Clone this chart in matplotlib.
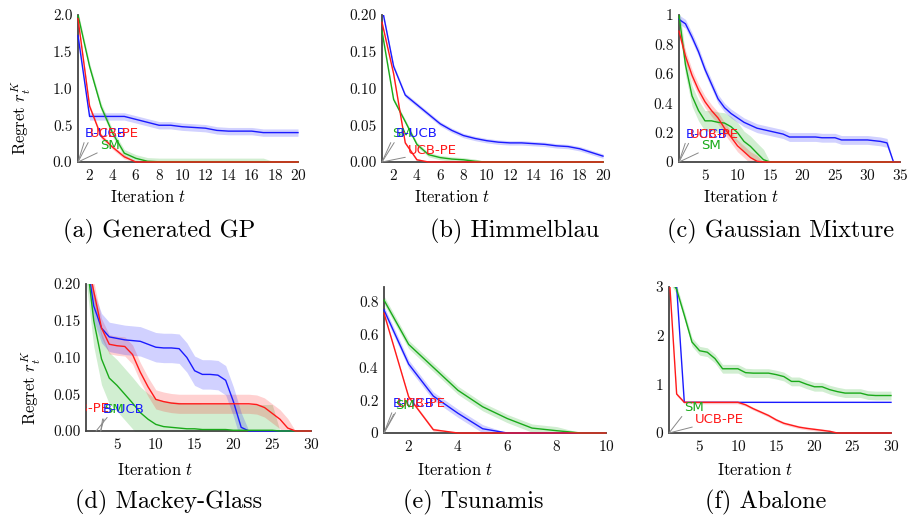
import numpy as np
import matplotlib
matplotlib.use("Agg")
import matplotlib.pyplot as plt
from matplotlib.transforms import Bbox, TransformedBbox

plt.rcParams['font.family'] = 'serif'
plt.rcParams['font.serif'] = ['cmr10']
plt.rcParams['mathtext.fontset'] = 'cm'
plt.rcParams['axes.formatter.use_mathtext'] = True

# ---------------- data ----------------
a_t = list(range(1, 21))
a_bucb = [1.72, 0.62, 0.62, 0.62, 0.62, 0.58, 0.54, 0.50, 0.50, 0.48, 0.47, 0.46, 0.43, 0.42, 0.42, 0.42, 0.40, 0.40, 0.40, 0.40]
a_ucbpe = [1.95, 0.76, 0.35, 0.20, 0.07, 0.0, 0, 0, 0, 0, 0, 0, 0, 0, 0, 0, 0, 0, 0, 0]
a_sm = [2.0, 1.30, 0.75, 0.39, 0.12, 0.05, 0.01, 0.003, 0.003, 0.003, 0.003, 0.003, 0.003, 0.003, 0.003, 0.003, 0.003, 0, 0, 0]

b_t = list(range(1, 21))
b_bucb = [0.21, 0.13, 0.091, 0.078, 0.065, 0.052, 0.043, 0.036, 0.032, 0.029, 0.027, 0.026, 0.026, 0.025, 0.024, 0.022, 0.021, 0.018, 0.013, 0.008]
b_ucbpe = [0.19, 0.12, 0.026, 0.003, 0, 0, 0, 0, 0, 0, 0, 0, 0, 0, 0, 0, 0, 0, 0, 0]
b_sm = [0.178, 0.085, 0.055, 0.024, 0.010, 0.006, 0.004, 0.003, 0.001, 0, 0, 0, 0, 0, 0, 0, 0, 0, 0, 0]

c_t = list(range(1, 36))
c_bucb = [0.97, 0.94, 0.85, 0.75, 0.63, 0.53, 0.43, 0.37, 0.33, 0.30, 0.27, 0.25, 0.23, 0.22, 0.21, 0.20, 0.19, 0.17,
          0.17, 0.17, 0.17, 0.17, 0.165, 0.165, 0.165, 0.15, 0.15, 0.15, 0.15, 0.15, 0.145, 0.14, 0.13, 0.0, 0.0]
c_ucbpe = [0.89, 0.72, 0.59, 0.49, 0.41, 0.35, 0.30, 0.23, 0.17, 0.11, 0.07, 0.03, 0.005] + [0.0] * 22
c_sm = [1.0, 0.66, 0.45, 0.35, 0.28, 0.28, 0.27, 0.265, 0.24, 0.20, 0.14, 0.106, 0.06, 0.016] + [0.0] * 21

d_t = list(range(1, 31))
d_bucb = [0.24, 0.17, 0.14, 0.128, 0.126, 0.124, 0.123, 0.122, 0.118, 0.114, 0.113, 0.113, 0.112, 0.10, 0.082,
          0.077, 0.077, 0.076, 0.069, 0.04, 0.005] + [0.0] * 9
d_ucbpe = [0.24, 0.19, 0.14, 0.118, 0.116, 0.115, 0.104, 0.08, 0.06, 0.043, 0.04, 0.038, 0.037] + [0.037] * 9 + \
          [0.036, 0.032, 0.024, 0.016, 0.004, 0.0, 0.0, 0.0]
d_sm = [0.24, 0.15, 0.098, 0.072, 0.062, 0.05, 0.038, 0.025, 0.016, 0.009, 0.006, 0.005, 0.004, 0.003, 0.003,
        0.002, 0.002, 0.002, 0.002, 0.001, 0.001, 0.001, 0.001, 0.001, 0.001, 0, 0, 0, 0, 0]

e_t = list(range(1, 11))
e_bucb = [0.75, 0.42, 0.225, 0.12, 0.026, 0, 0, 0, 0, 0]
e_ucbpe = [0.73, 0.22, 0.02, 0, 0, 0, 0, 0, 0, 0]
e_sm = [0.81, 0.54, 0.40, 0.26, 0.16, 0.088, 0.03, 0.014, 0.0, 0.0]

f_t = list(range(1, 31))
f_bucb = [3.2, 3.0] + [0.63] * 28
f_ucbpe = [3.3, 0.8] + [0.63] * 8 + [0.58, 0.5, 0.43, 0.36, 0.27, 0.2, 0.16, 0.12, 0.095, 0.075, 0.055, 0.034] + [0.0] * 8
f_sm = [3.2, 2.95, 2.42, 1.87, 1.69, 1.66, 1.53, 1.32, 1.32, 1.32, 1.24, 1.23, 1.23, 1.23, 1.2, 1.16, 1.06, 1.06,
        1.0, 0.95, 0.95, 0.89, 0.85, 0.82, 0.82, 0.82, 0.78, 0.77, 0.77, 0.77]

# band half-widths (B-UCB, UCB-PE, SM)
a_band = [0.05, 0.03, 0.05]
b_band = [0.003, 0.002, 0.003]
c_band = [0.03, 0.04, 0.07]
d_band = [0.02, 0.013, 0.035]
e_band = [0.025, 0.01, 0.025]
f_band = [0.0, 0.03, 0.09]

BLUE = '#1a1aff'
RED = '#ff1a1a'
GREEN = '#1aaa1a'

W, H = 908, 516
fig = plt.figure(figsize=(W / 100, H / 100), dpi=100)


def px_axes(l, r, t, b):
    return fig.add_axes([l / W, 1 - b / H, (r - l) / W, (b - t) / H])


def draw(ax, t, series, bands, xlim, ylim, xticks, yticks, ylabels):
    t = np.asarray(t, float)
    cols = [BLUE, RED, GREEN]
    for i in [2, 1, 0]:
        v = np.asarray(series[i], float)
        s = bands[i] * (v > 0)
        if bands[i] > 0:
            ax.fill_between(t, v - s, v + s, color=cols[i], alpha=0.2, lw=0, zorder=1)
    clip = TransformedBbox(Bbox([[-0.01, -0.02], [1.01, 1.0]]), ax.transAxes)
    for i in [0, 2, 1]:
        ln, = ax.plot(t, series[i], color=cols[i], lw=1.0, zorder=3)
        ln.set_clip_box(clip)
    ax.set_xlim(*xlim)
    ax.set_ylim(*ylim)
    ax.set_xticks(xticks)
    ax.set_yticks(yticks)
    ax.set_yticklabels(ylabels)
    for sp in ['top', 'right']:
        ax.spines[sp].set_visible(False)
    for sp in ['left', 'bottom']:
        ax.spines[sp].set_color('#444444')
        ax.spines[sp].set_linewidth(1.3)
        ax.spines[sp].set_zorder(2.5)
    ax.tick_params(length=0, labelsize=11, pad=4, colors='#111111')
    ax.patch.set_alpha(0)


def pin(ax, txt, color, pos, origin, relpos=(0, 0), clip=False):
    an = ax.annotate(txt, xy=origin, xytext=pos, color=color, fontsize=9.5, family='DejaVu Sans',
                     ha='left', va='center', zorder=6,
                     arrowprops=dict(arrowstyle='-', color='#888888', lw=0.7, shrinkA=0, shrinkB=0,
                                     relpos=relpos))
    if clip:
        an.set_clip_box(ax.bbox)
        an.set_clip_on(True)
    return an


# (a)
ax = px_axes(78, 298, 15, 162)
draw(ax, a_t, [a_bucb, a_ucbpe, a_sm], a_band, (1, 20), (0, 2.0), range(2, 21, 2),
     [0, 0.5, 1.0, 1.5, 2.0], ['0.0', '0.5', '1.0', '1.5', '2.0'])
pin(ax, 'SM', GREEN, (2.9, 0.23), (1, 0))
pin(ax, 'B-UCB', BLUE, (1.6, 0.39), (1, 0))
pin(ax, 'UCB-PE', RED, (2.0, 0.39), (1, 0))

# (b)
ax = px_axes(382, 603, 15, 162)
draw(ax, b_t, [b_bucb, b_ucbpe, b_sm], b_band, (1, 20), (0, 0.2), range(2, 21, 2),
     [0, 0.05, 0.10, 0.15, 0.20], ['0.00', '0.05', '0.10', '0.15', '0.20'])
pin(ax, 'SM', GREEN, (1.86, 0.039), (1, 0))
pin(ax, 'B-UCB', BLUE, (2.2, 0.039), (1, 0))
pin(ax, 'UCB-PE', RED, (3.24, 0.016), (1, 0))

# (c)
ax = px_axes(679, 900, 15, 162)
draw(ax, c_t, [c_bucb, c_ucbpe, c_sm], c_band, (1, 35), (0, 1.0), range(5, 36, 5),
     [0, 0.2, 0.4, 0.6, 0.8, 1.0], ['0', '0.2', '0.4', '0.6', '0.8', '1'])
pin(ax, 'SM', GREEN, (4.4, 0.115), (1, 0))
pin(ax, 'B-UCB', BLUE, (2.1, 0.19), (1, 0))
pin(ax, 'UCB-PE', RED, (2.7, 0.19), (1, 0))

# (d)
ax = px_axes(86, 311, 284, 431)
draw(ax, d_t, [d_bucb, d_ucbpe, d_sm], d_band, (1, 30), (0, 0.2), range(5, 31, 5),
     [0, 0.05, 0.10, 0.15, 0.20], ['0.00', '0.05', '0.10', '0.15', '0.20'])
pin(ax, 'UCB-PE', RED, (-2.3, 0.031), (2.3, 0), relpos=(1, 0), clip=True)
pin(ax, 'SM', GREEN, (3.4, 0.029), (2.9, 0))
pin(ax, 'B-UCB', BLUE, (3.2, 0.029), (2.9, 0))

# (e)
ax = px_axes(384, 606, 287, 433)
draw(ax, e_t, [e_bucb, e_ucbpe, e_sm], e_band, (1, 10), (0, 0.89), range(2, 11, 2),
     [0, 0.2, 0.4, 0.6, 0.8], ['0', '0.2', '0.4', '0.6', '0.8'])
pin(ax, 'B-UCB', BLUE, (1.36, 0.18), (1, 0))
pin(ax, 'UCB-PE', RED, (1.53, 0.18), (1, 0))
pin(ax, 'SM', GREEN, (1.45, 0.17), (1, 0))

# (f)
ax = px_axes(669, 891, 287, 433)
draw(ax, f_t, [f_bucb, f_ucbpe, f_sm], f_band, (1, 30), (0, 3.0), range(5, 31, 5),
     [0, 1, 2, 3], ['0', '1', '2', '3'])
pin(ax, 'SM', GREEN, (2.96, 0.53), (1, 0))
pin(ax, 'UCB-PE', RED, (4.4, 0.27), (1, 0))

# axis labels
for (x, y) in [(148, 197), (452, 197), (741, 197), (155, 470), (455, 470), (755, 470)]:
    fig.text(x / W, 1 - y / H, r'Iteration $t$', ha='center', va='center', fontsize=12)
fig.text(21 / W, 1 - 117 / H, r'Regret $r_t^K$', rotation=90, ha='center', va='center', fontsize=12)
fig.text(31 / W, 1 - 387 / H, r'Regret $r_t^K$', rotation=90, ha='center', va='center', fontsize=12)

# captions
caps = [('(a) Generated GP', 159, 231), ('(b) Himmelblau', 515, 231), ('(c) Gaussian Mixture', 781, 231),
        ('(d) Mackey-Glass', 169, 502), ('(e) Tsunamis', 473, 502), ('(f) Abalone', 766, 502)]
for txt, x, y in caps:
    fig.text(x / W, 1 - y / H, txt, ha='center', va='center', fontsize=17.5)

fig.savefig('out.png', dpi=100)
